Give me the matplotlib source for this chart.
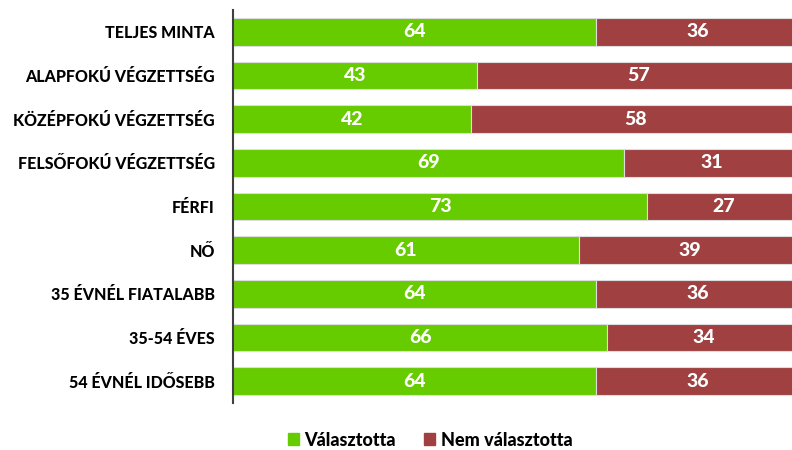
import matplotlib
matplotlib.use("Agg")
import matplotlib.pyplot as plt
from matplotlib.patches import Patch

categories = ["TELJES MINTA", "ALAPFOKÚ VÉGZETTSÉG", "KÖZÉPFOKÚ VÉGZETTSÉG",
              "FELSŐFOKÚ VÉGZETTSÉG", "FÉRFI", "NŐ", "35 ÉVNÉL FIATALABB",
              "35-54 ÉVES", "54 ÉVNÉL IDŐSEBB"]
valasztotta = [64, 43, 42, 69, 73, 61, 64, 66, 64]
nem_valasztotta = [36, 57, 58, 31, 27, 39, 36, 34, 36]
series_names = ["Választotta", "Nem választotta"]

green = "#66CC00"
red = "#A04040"
font = "Lato"

W, H = 792, 450
fig = plt.figure(figsize=(W / 100, H / 100), dpi=100)
left, right = 233, 800
top, bottom = 10, 403
ax = fig.add_axes([left / W, 1 - bottom / H, (right - left) / W, (bottom - top) / H])

y = list(range(len(categories)))
ax.barh(y, valasztotta, height=0.64, color=green, edgecolor="#dddddd", linewidth=0.8)
ax.barh(y, nem_valasztotta, left=valasztotta, height=0.64, color=red,
        edgecolor="#dddddd", linewidth=0.8)

for i, (a, b) in enumerate(zip(valasztotta, nem_valasztotta)):
    ax.text(a / 2, i, str(a), ha="center", va="center", color="white",
            fontsize=14, fontweight="black", family=font)
    ax.text(a + b / 2, i, str(b), ha="center", va="center", color="white",
            fontsize=14, fontweight="black", family=font)

ax.set_ylim(len(categories) - 0.5, -0.5)
ax.set_xlim(0, 100)
ax.set_yticks(y)
ax.set_yticklabels(categories, fontsize=11.5, fontweight="black", family=font)
ax.tick_params(axis="y", length=0, pad=13)
ax.set_xticks([])
for s in ["top", "right", "bottom"]:
    ax.spines[s].set_visible(False)
ax.spines["left"].set_color("#404040")
ax.spines["left"].set_linewidth(1.5)

handles = [Patch(color=green), Patch(color=red)]
fig.legend(handles, series_names, loc="center", bbox_to_anchor=(430 / W, 1 - 440 / H),
           ncol=2, frameon=False, handlelength=0.6, handleheight=0.6,
           handletextpad=0.3, columnspacing=1.6,
           prop={"family": font, "weight": "black", "size": 13})

fig.savefig("out.png", dpi=100)
